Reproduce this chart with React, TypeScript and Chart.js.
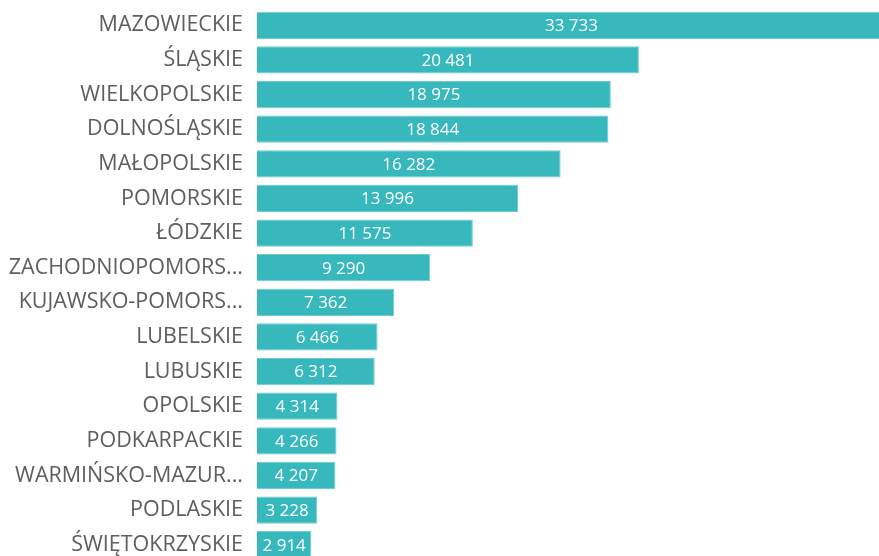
import React, { useEffect, useRef } from "react";
import { Chart, registerables } from "chart.js";

Chart.register(...registerables);

const categories: string[] = [
  "MAZOWIECKIE",
  "ŚLĄSKIE",
  "WIELKOPOLSKIE",
  "DOLNOŚLĄSKIE",
  "MAŁOPOLSKIE",
  "POMORSKIE",
  "ŁÓDZKIE",
  "ZACHODNIOPOMORS...",
  "KUJAWSKO-POMORS...",
  "LUBELSKIE",
  "LUBUSKIE",
  "OPOLSKIE",
  "PODKARPACKIE",
  "WARMIŃSKO-MAZUR...",
  "PODLASKIE",
  "ŚWIĘTOKRZYSKIE",
];

const values: number[] = [
  33733, 20481, 18975, 18844, 16282, 13996, 11575, 9290, 7362, 6466, 6312,
  4314, 4266, 4207, 3228, 2914,
];

const fmt = (v: number) => String(v).replace(/\B(?=(\d{3})+(?!\d))/g, " ");

const valueLabels = {
  id: "valueLabels",
  afterDatasetsDraw(chart: any) {
    const { ctx, chartArea } = chart;
    const meta = chart.getDatasetMeta(0);
    ctx.save();
    ctx.font = "17px 'Open Sans'";
    ctx.fillStyle = "#ffffff";
    ctx.textAlign = "center";
    ctx.textBaseline = "middle";
    meta.data.forEach((bar: any, i: number) => {
      const right = Math.min(bar.x, chartArea.right);
      const cx = (bar.base + right) / 2;
      ctx.fillText(fmt(values[i]), cx, bar.y + 1);
    });
    ctx.restore();
  },
};

export default function App() {
  const ref = useRef<HTMLCanvasElement | null>(null);
  useEffect(() => {
    if (!ref.current) return;
    const chart = new Chart(ref.current, {
      type: "bar",
      data: {
        labels: categories,
        datasets: [
          {
            data: values,
            backgroundColor: "#37B8BD",
            borderColor: "#6FCBCF",
            borderWidth: 1,
            barPercentage: 0.79,
            categoryPercentage: 1,
          },
        ],
      },
      options: {
        indexAxis: "y",
        animation: false,
        responsive: false,
        maintainAspectRatio: false,
        layout: { padding: { top: 8, bottom: 0, left: 0, right: 14 } },
        plugins: {
          legend: { display: false },
          tooltip: { enabled: false },
        },
        scales: {
          x: {
            display: false,
            min: 0,
            max: 33733,
          },
          y: {
            grid: { display: false, drawTicks: false },
            border: { display: false },
            ticks: {
              color: "#605E5C",
              font: { family: "'Open Sans'", size: 21.5 },
              padding: 14,
              autoSkip: false,
            },
            afterFit(scale: any) {
              scale.width = 257;
              scale.paddingTop = 0;
              scale.paddingBottom = 0;
            },
          },
        },
      },
      plugins: [valueLabels],
    });
    return () => chart.destroy();
  }, []);
  return (
    <div style={{ position: "fixed", left: 0, top: 0, width: 900, height: 562, background: "#fff" }}>
      <canvas ref={ref} width={900} height={562} style={{ width: 900, height: 562 }} />
    </div>
  );
}
